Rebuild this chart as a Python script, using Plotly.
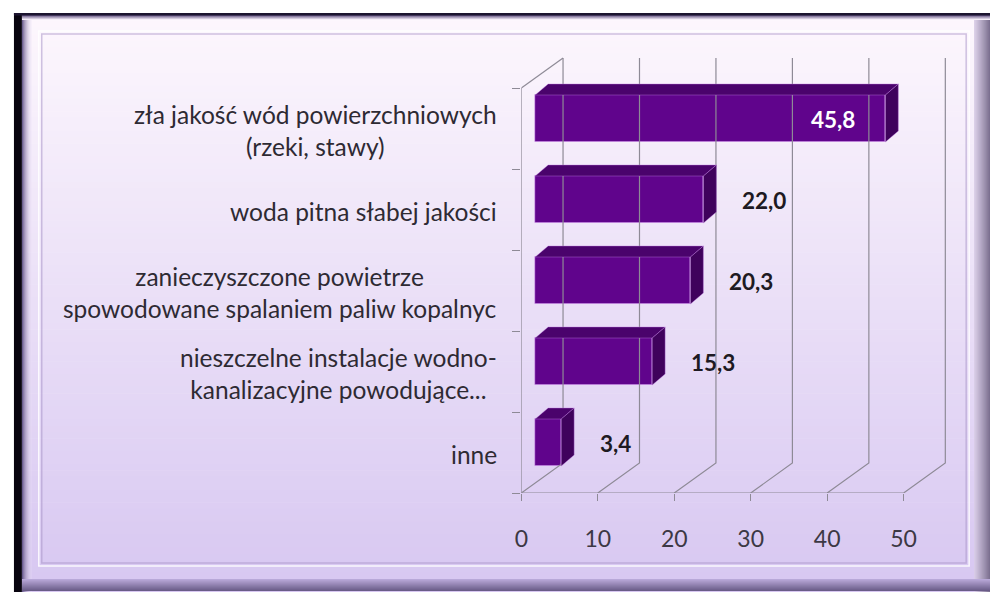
import plotly.graph_objects as go

# ---- data -------------------------------------------------------------
categories = [
    "inne",
    "nieszczelne instalacje wodno-<br>kanalizacyjne powodujące...",
    "zanieczyszczone powietrze<br>spowodowane spalaniem paliw kopalnyc",
    "woda pitna słabej jakości",
    "zła jakość wód powierzchniowych<br>(rzeki, stawy)",
]
values = [3.4, 15.3, 20.3, 22.0, 45.8]
x_ticks = [0, 10, 20, 30, 40, 50]

# ---- geometry (pixels) ----------------------------------------------
W, H = 990, 592
PX_L, PX_R = 518, 960          # plot area left/right
PX_T, PX_B = 50, 493           # plot area top/bottom (front floor edge)
PX_PER_X = 7.7                 # pixels per value unit
PX_PER_CAT = 81                # pixels per category band

x_range = [0, (PX_R - PX_L) / PX_PER_X]
y_range = [-0.5, -0.5 + (PX_B - PX_T) / PX_PER_CAT]

# depth of the 3D box in axis units
WALL_DX = 42 / PX_PER_X
WALL_DY = 30 / PX_PER_CAT
# bars sit one third of the way into the box
BAR_BASE = WALL_DX / 3
BAR_SHIFT = WALL_DY / 3
BAR_W = 47 / PX_PER_CAT
BAR_DX = 13 / PX_PER_X
BAR_DY = 11 / PX_PER_CAT

FRONT = "#60048c"
TOP = "#4a036c"
SIDE = "#3f025c"
GRID = "#8e8a96"
FONT = "Lato, 'Open Sans', sans-serif"


def px_x(p):
    return p / W


def px_y(p):
    return 1 - p / H


def mix(c1, c2, t):
    a = [int(c1[i:i + 2], 16) for i in (1, 3, 5)]
    b = [int(c2[i:i + 2], 16) for i in (1, 3, 5)]
    return "rgb(%d,%d,%d)" % tuple(round(a[k] + (b[k] - a[k]) * t) for k in range(3))


shapes = []

# panel background: vertical lavender gradient
N = 90
top_c, bot_c = "#fdf7fd", "#d7c7f1"
y0p, y1p = 15, 592
for i in range(N):
    a = y0p + (y1p - y0p) * i / N
    b = y0p + (y1p - y0p) * (i + 1) / N + 0.6
    shapes.append(dict(type="rect", xref="paper", yref="paper", layer="below",
                       x0=px_x(15), x1=px_x(990), y0=px_y(b), y1=px_y(a),
                       fillcolor=mix(top_c, bot_c, i / (N - 1)), line_width=0))

# left shading from the dark edge into the panel
for i in range(10):
    t = i / 9
    shapes.append(dict(type="rect", xref="paper", yref="paper", layer="below",
                       x0=px_x(15 + i), x1=px_x(16 + i), y0=px_y(592), y1=px_y(15),
                       fillcolor=mix("#5a4c80", "#ece2f8", t ** 0.8),
                       opacity=1 - t * 0.7, line_width=0))
# right bevel
for i in range(16):
    t = i / 15
    shapes.append(dict(type="rect", xref="paper", yref="paper", layer="below",
                       x0=px_x(974 + i), x1=px_x(975 + i), y0=px_y(592), y1=px_y(15),
                       fillcolor=mix("#d8cce6", "#7c7090", t), line_width=0))
# bottom bevel
for i in range(12):
    t = i / 11
    shapes.append(dict(type="rect", xref="paper", yref="paper", layer="below",
                       x0=px_x(15), x1=px_x(990), y0=px_y(580 + i), y1=px_y(579 + i),
                       fillcolor=mix("#b8a8d8", "#6a5c88", t), line_width=0))
# top bevel
for i in range(5):
    t = i / 4
    shapes.append(dict(type="rect", xref="paper", yref="paper", layer="below",
                       x0=px_x(15), x1=px_x(990), y0=px_y(16 + i), y1=px_y(15 + i),
                       fillcolor=mix("#6a5a88", "#f6eef9", t), line_width=0))

# dark outer edges (left band and top line)
shapes.append(dict(type="rect", xref="paper", yref="paper", layer="below",
                   x0=px_x(7), x1=px_x(15), y0=px_y(592), y1=px_y(13),
                   fillcolor="#08040f", line_width=0))
shapes.append(dict(type="rect", xref="paper", yref="paper", layer="below",
                   x0=px_x(7), x1=px_x(990), y0=px_y(15.5), y1=px_y(13),
                   fillcolor="#1c1430", line_width=0))

# inner bevelled frame
shapes.append(dict(type="rect", xref="paper", yref="paper", layer="below",
                   x0=px_x(32), x1=px_x(969), y0=px_y(566), y1=px_y(31),
                   line=dict(color="rgba(255,255,255,0.85)", width=1.5)))
shapes.append(dict(type="rect", xref="paper", yref="paper", layer="below",
                   x0=px_x(35), x1=px_x(966), y0=px_y(563), y1=px_y(34),
                   line=dict(color="rgba(170,150,200,0.55)", width=1.5)))

fig = go.Figure()

# ---- 3D box frame: left wall, floor diagonals, back-wall grid -------------
gx, gy = [], []
y_lo, y_hi = -0.5, len(categories) - 0.5
# front vertical edge of the side wall and its top diagonal
gx += [0, 0, None, 0, WALL_DX, None]
gy += [y_lo, y_hi, None, y_hi, y_hi + WALL_DY, None]
# front floor edge
gx += [x_ticks[0], x_ticks[-1], None]
gy += [y_lo, y_lo, None]
for v in x_ticks:
    gx += [v, v + WALL_DX, v + WALL_DX, None]
    gy += [y_lo, y_lo + WALL_DY, y_hi + WALL_DY, None]
fig.add_trace(go.Scatter(x=gx, y=gy, mode="lines", hoverinfo="skip",
                         line=dict(color=GRID, width=1.2), showlegend=False))

# ---- bars ------------------------------------------------------------------
yc = [i + BAR_SHIFT for i in range(len(values))]
fig.add_trace(go.Bar(
    y=yc, x=values, base=BAR_BASE, orientation="h", width=BAR_W,
    marker=dict(color=FRONT, line=dict(color="rgba(205,140,235,0.5)", width=1)),
    showlegend=False, hoverinfo="skip"))

tx, ty, sx, sy = [], [], [], []
for y, v in zip(yc, values):
    x0, x1 = BAR_BASE, BAR_BASE + v
    yt, yb = y + BAR_W / 2, y - BAR_W / 2
    tx += [x0, x1, x1 + BAR_DX, x0 + BAR_DX, x0, None]
    ty += [yt, yt, yt + BAR_DY, yt + BAR_DY, yt, None]
    sx += [x1, x1, x1 + BAR_DX, x1 + BAR_DX, x1, None]
    sy += [yt, yb, yb + BAR_DY, yt + BAR_DY, yt, None]
fig.add_trace(go.Scatter(x=tx, y=ty, mode="lines", fill="toself", fillcolor=TOP,
                         line=dict(color="rgba(190,120,225,0.4)", width=1),
                         hoverinfo="skip", showlegend=False))
fig.add_trace(go.Scatter(x=sx, y=sy, mode="lines", fill="toself", fillcolor=SIDE,
                         line=dict(color="rgba(190,120,225,0.4)", width=1),
                         hoverinfo="skip", showlegend=False))

# ---- value labels -----------------------------------------------------------
annotations = []
for y, v in zip(yc, values):
    inside = v > 40
    annotations.append(dict(
        x=BAR_BASE + v, y=y, xref="x", yref="y",
        text=("%.1f" % v).replace(".", ","), showarrow=False,
        xanchor="right" if inside else "left",
        xshift=-28 if inside else 37, yshift=-1,
        font=dict(family=FONT, size=22.5, color="white" if inside else "#1e1a22",
                  weight="bold")))

# ---- category labels --------------------------------------------------------
for i, c in enumerate(categories):
    annotations.append(dict(
        x=px_x(495), y=i, xref="paper", yref="y", text=c, showarrow=False,
        xanchor="right", align="center", yshift=-2,
        font=dict(family=FONT, size=24.5, color="#2e2a33")))

fig.update_layout(
    width=W, height=H,
    margin=dict(l=0, r=0, t=0, b=0),
    paper_bgcolor="white",
    plot_bgcolor="rgba(0,0,0,0)",
    shapes=shapes,
    annotations=annotations,
    bargap=0,
    xaxis=dict(domain=[px_x(PX_L), px_x(PX_R)], range=x_range,
               tickvals=x_ticks, ticks="outside", ticklen=7, tickcolor=GRID,
               tickwidth=1.2, showgrid=False, zeroline=False, showline=False,
               ticklabelstandoff=18,
               tickfont=dict(family=FONT, size=23, color="#3c3844")),
    yaxis=dict(domain=[px_y(PX_B), px_y(PX_T)], range=y_range,
               tickvals=[k - 0.5 for k in range(len(categories) + 1)],
               ticks="outside", ticklen=8, tickcolor=GRID, tickwidth=1.2,
               showticklabels=False, showgrid=False, zeroline=False,
               showline=False),
)

fig.write_html("out.html")
